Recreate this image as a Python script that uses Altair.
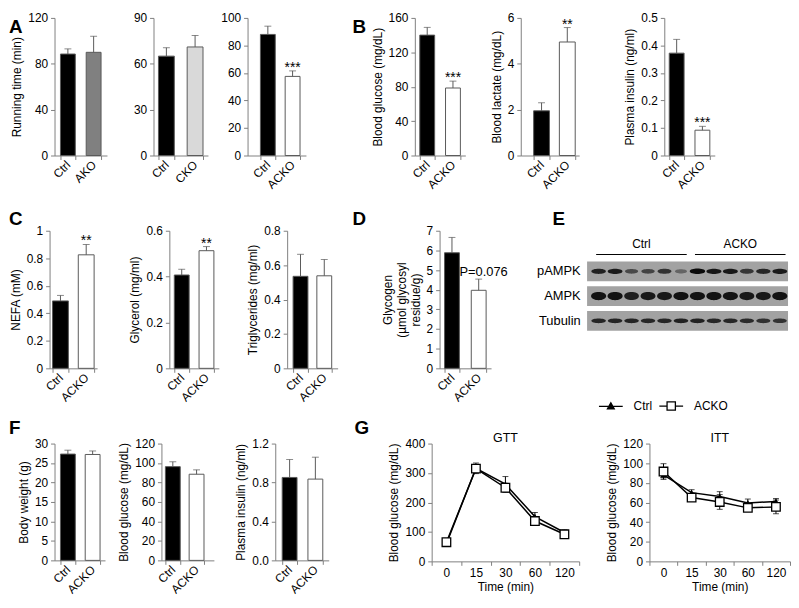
import altair as alt
import pandas as pd

FONT = 'Liberation Sans'
AX = '#808080'
EB = '#595959'

# ---------------- data ----------------
a1_cats = ['Ctrl', 'AKO']
a1_vals = [88.5, 90.0]
a1_errs = [4.5, 14.0]

a2_cats = ['Ctrl', 'CKO']
a2_vals = [65.0, 71.0]
a2_errs = [5.5, 7.5]

ko_cats = ['Ctrl', 'ACKO']
a3_vals = [88.0, 57.5]
a3_errs = [6.0, 4.0]
a3_sig = ['', '***']

b1_vals = [140.0, 78.5]
b1_errs = [9.0, 8.0]
b1_sig = ['', '***']
b2_vals = [1.95, 4.95]
b2_errs = [0.35, 0.63]
b2_sig = ['', '**']
b3_vals = [0.372, 0.092]
b3_errs = [0.05, 0.014]
b3_sig = ['', '***']

c1_vals = [0.49, 0.825]
c1_errs = [0.04, 0.075]
c1_sig = ['', '**']
c2_vals = [0.407, 0.513]
c2_errs = [0.025, 0.018]
c2_sig = ['', '**']
c3_vals = [0.535, 0.538]
c3_errs = [0.128, 0.095]

d_vals = [5.88, 3.97]
d_errs = [0.78, 0.57]
d_note = ['', 'P=0.076']

f1_vals = [27.3, 27.2]
f1_errs = [1.0, 0.9]
f2_vals = [96.3, 88.5]
f2_errs = [5.0, 4.5]
f3_vals = [0.852, 0.835]
f3_errs = [0.184, 0.225]

# western blot (relative band strength per lane)
lanes = list(range(1, 13))
lane_group = ['Ctrl'] * 6 + ['ACKO'] * 6
blot_rows = ['pAMPK', 'AMPK', 'Tubulin']
pampk_int = [0.82, 0.88, 0.5, 0.55, 0.68, 0.3, 1.0, 0.92, 0.9, 0.65, 0.78, 0.88]
ampk_int = [0.95, 0.95, 0.85, 0.9, 0.9, 0.95, 0.95, 0.95, 0.95, 0.9, 0.9, 0.95]
tub_int = [0.8, 0.8, 0.8, 0.78, 0.78, 0.82, 0.82, 0.78, 0.78, 0.75, 0.7, 0.68]

# GTT / ITT
times = ['0', '15', '30', '60', '120']
gtt_ctrl = [60, 316, 262, 152, 98]
gtt_ctrl_err = [6, 18, 26, 14, 9]
gtt_acko = [65, 315, 250, 137, 92]
gtt_acko_err = [8, 14, 15, 10, 7]
itt_ctrl = [88, 70, 66, 59.5, 61]
itt_ctrl_err = [3, 3, 5, 4, 3]
itt_acko = [91.5, 65, 60.5, 54.5, 55.5]
itt_acko_err = [8, 3, 7.5, 3, 7]

# ---------------- styles ----------------
BAR_FILL = {'Ctrl': '#000000', 'AKO': '#808080', 'CKO': '#d9d9d9', 'ACKO': '#ffffff'}
SP = pd.DataFrame({'v': [0]})


def spacer(w, h, letter=None, dx=0, dy=0):
    ch = alt.Chart(SP).mark_point(opacity=0, size=0).encode(
        x=alt.value(0), y=alt.value(0)).properties(width=w, height=h)
    if letter:
        ch = ch.properties(title=alt.TitleParams(
            text=letter, anchor='start', frame='group', dx=dx, dy=dy, offset=0,
            fontSize=19, fontWeight='bold', baseline='top', color='black', font=FONT))
    return ch


def bar_chart(cats, vals, errs, ymax, ticks, ytitle, geom, height, sig=None,
              fmt='~g', sig_size=14, sig_baseline='alphabetic', sig_dx=0, sig_dy=1):
    L, b1, s, bw, R = geom
    W = R - L
    pi = 1 - bw / s
    po = (W / s - 2 + pi) / 2
    al = (b1 - L) / (W - s - bw)
    df = pd.DataFrame({'cat': cats, 'val': vals, 'err': errs,
                       'sig': sig if sig else [''] * len(cats)})
    base = alt.Chart(df).transform_calculate(top='datum.val + datum.err')
    x = alt.X('cat:N', sort=list(cats),
              scale=alt.Scale(paddingInner=pi, paddingOuter=po, align=al),
              axis=alt.Axis(title=None, labelAngle=315, labelAlign='right',
                            labelBaseline='middle', tickBand='extent',
                            labelPadding=3, labelOverlap=False))
    ysc = alt.Scale(domain=[0, ymax], nice=False, zero=True)
    yax = alt.Axis(values=ticks, labelExpr=f"format(datum.value, '{fmt}')",
                   title=ytitle if ytitle else None)
    fill = alt.Fill('cat:N', scale=alt.Scale(domain=list(cats),
                                             range=[BAR_FILL[c] for c in cats]), legend=None)
    bars = base.mark_bar(stroke=EB, strokeWidth=1).encode(
        x=x, y=alt.Y('val:Q', scale=ysc, axis=yax), fill=fill)
    rule = base.mark_rule(color=EB, strokeWidth=1).encode(
        x=x, y=alt.Y('val:Q', scale=ysc, axis=yax), y2='top:Q')
    cap = base.mark_tick(orient='horizontal', size=7, thickness=1, color=EB).encode(
        x=x, y=alt.Y('top:Q', scale=ysc, axis=yax))
    layers = [bars, rule, cap]
    if sig:
        text = base.mark_text(fontSize=sig_size, baseline=sig_baseline, dx=sig_dx,
                              dy=sig_dy, color='black').encode(
            x=x, y=alt.Y('top:Q', scale=ysc, axis=yax), text='sig:N')
        layers.append(text)
    return alt.layer(*layers).properties(width=W, height=height)


def blot_chart(W, H):
    ydom = ['hdr'] + blot_rows
    step = 25.0
    n_inner = len(ydom) - 0.2
    po = (H / step - n_inner) / 2
    al = 6.0 / (H - step * n_inner)
    ysc = alt.Scale(domain=ydom, paddingInner=0.2, paddingOuter=po, align=al)
    yax = alt.Axis(title=None, domain=False, ticks=False, labelFontSize=13,
                   labelPadding=7, labelColor='black',
                   labelExpr="datum.value == 'hdr' ? '' : datum.value")
    xsc = alt.Scale(domain=[0.3, 12.5], nice=False, zero=False)
    y = alt.Y('row:N', scale=ysc, axis=yax, sort=ydom)
    strips = alt.Chart(pd.DataFrame({'row': blot_rows})).mark_rect(color='#a2a2a2').encode(
        x=alt.X(datum=0.3, scale=xsc, axis=None), x2=alt.X2(datum=12.5), y=y)
    layers = [strips]
    for row, ints, ratio in [('pAMPK', pampk_int, 0.36), ('AMPK', ampk_int, 0.55),
                             ('Tubulin', tub_int, 0.33)]:
        k = 4.0 / 3.0 * ratio
        path = f"M-1,0C-1,{-k:.3f} 1,{-k:.3f} 1,0C1,{k:.3f} -1,{k:.3f} -1,0Z"
        df = pd.DataFrame({'lane': lanes, 'int': ints, 'row': [row] * len(lanes)})
        layers.append(alt.Chart(df).mark_point(shape=path, filled=True, opacity=1).encode(
            x=alt.X('lane:Q', scale=xsc, axis=None), y=y,
            fill=alt.Fill('int:Q', scale=alt.Scale(domain=[0, 1], range=['#8f8f8f', '#0a0a0a']),
                          legend=None),
            size=alt.Size('int:Q', scale=alt.Scale(domain=[0, 1], range=[110, 240]), legend=None)))
    lg = pd.DataFrame({'lane': lanes, 'grp': lane_group})
    hdr = lg.groupby('grp', sort=False)['lane'].agg(['min', 'max']).reset_index()
    hdr['row'] = 'hdr'
    hbase = alt.Chart(hdr).transform_calculate(
        xs='datum.min - 0.15', xe='datum.max + 0.35', xm='(datum.min + datum.max) / 2 + 0.1')
    rules = hbase.mark_rule(color='black', strokeWidth=1, yOffset=8).encode(
        x=alt.X('xs:Q', scale=xsc, axis=None), x2='xe:Q', y=y)
    texts = hbase.mark_text(fontSize=12, baseline='middle', yOffset=-3, color='black').encode(
        x=alt.X('xm:Q', scale=xsc, axis=None), y=y, text='grp:N')
    layers += [rules, texts]
    return alt.layer(*layers).properties(width=W, height=H)


def tol_chart(ctrl, ctrl_err, acko, acko_err, ymax, ticks, title, W, H):
    df = pd.DataFrame({'t': times * 2, 'grp': ['Ctrl'] * len(times) + ['ACKO'] * len(times),
                       'val': ctrl + acko, 'err': ctrl_err + acko_err})
    base = alt.Chart(df).transform_calculate(lo='datum.val - datum.err',
                                             hi='datum.val + datum.err')
    x = alt.X('t:N', sort=times, scale=alt.Scale(type='band', paddingInner=0, paddingOuter=0),
              axis=alt.Axis(title='Time (min)', labelAngle=0, tickBand='extent',
                            labelPadding=2, titlePadding=3))
    ysc = alt.Scale(domain=[0, ymax], nice=False, zero=True)
    yax = alt.Axis(values=ticks, labelExpr="format(datum.value, '~g')",
                   title='Blood glucose (mg/dL)')
    line = base.mark_line(color='black', strokeWidth=1.5).encode(
        x=x, y=alt.Y('val:Q', scale=ysc, axis=yax), detail='grp:N')
    rule = base.mark_rule(color='black', strokeWidth=1).encode(
        x=x, y=alt.Y('lo:Q', scale=ysc, axis=yax), y2='hi:Q')
    cap_lo = base.mark_tick(orient='horizontal', size=6, thickness=1, color='black').encode(
        x=x, y=alt.Y('lo:Q', scale=ysc, axis=yax))
    cap_hi = base.mark_tick(orient='horizontal', size=6, thickness=1, color='black').encode(
        x=x, y=alt.Y('hi:Q', scale=ysc, axis=yax))
    pc = base.transform_filter("datum.grp == 'Ctrl'").mark_point(
        shape='triangle-up', filled=True, color='black', size=45, opacity=1).encode(
        x=x, y=alt.Y('val:Q', scale=ysc, axis=yax))
    pa = base.transform_filter("datum.grp == 'ACKO'").mark_point(
        shape='square', filled=True, fill='white', stroke='black', strokeWidth=1.3,
        size=75, opacity=1).encode(x=x, y=alt.Y('val:Q', scale=ysc, axis=yax))
    return alt.layer(line, rule, cap_lo, cap_hi, pc, pa).properties(
        width=W, height=H,
        title=alt.TitleParams(text=title, fontSize=12.5, fontWeight='normal', anchor='middle',
                              offset=0, dy=20, baseline='bottom', color='black'))


def legend_holder(w, h, lx, ly):
    P_CTRL = "M-4,0H4M0,-1.25L1.15,0.85H-1.15Z"
    P_ACKO = "M-4,0H-1.4M1.4,0H4M-1.4,-1.4H1.4V1.4H-1.4Z"
    leg = alt.Legend(orient='none', legendX=lx, legendY=ly, direction='horizontal',
                     title=None, symbolSize=36, symbolStrokeWidth=1.3, labelFontSize=12,
                     labelOffset=17, columnPadding=4, padding=0, labelColor='black')
    return alt.Chart(pd.DataFrame({'grp': ['Ctrl', 'ACKO']})).mark_point(
        size=0, filled=False, stroke='black', strokeWidth=1.3, opacity=1).encode(
        shape=alt.Shape('grp:N', scale=alt.Scale(domain=['Ctrl', 'ACKO'], range=[P_CTRL, P_ACKO]),
                        legend=leg),
        fill=alt.Fill('grp:N', scale=alt.Scale(domain=['Ctrl', 'ACKO'], range=['black', 'white']),
                      legend=leg),
    ).properties(width=w, height=h)


# ---------------- panels ----------------
H1, H2, HF, HG = 139, 139, 118, 119
A1 = bar_chart(a1_cats, a1_vals, a1_errs, 120, [0, 40, 80, 120], 'Running time (min)',
               (52, 58, 26, 15, 105), H1)
A2 = bar_chart(a2_cats, a2_vals, a2_errs, 90, [0, 30, 60, 90], None, (152, 157, 29, 16, 207), H1)
A3 = bar_chart(ko_cats, a3_vals, a3_errs, 100, [0, 20, 40, 60, 80, 100], None,
               (247, 260, 25, 15, 306), H1, sig=a3_sig)
B1 = bar_chart(ko_cats, b1_vals, b1_errs, 160, [0, 40, 80, 120, 160], 'Blood glucose (mg/dL)',
               (416, 421, 26, 15, 467), H1, sig=b1_sig)
B2 = bar_chart(ko_cats, b2_vals, b2_errs, 6, [0, 2, 4, 6], 'Blood lactate (mg/dL)',
               (523, 536, 26, 16, 582), H1, sig=b2_sig)
B3 = bar_chart(ko_cats, b3_vals, b3_errs, 0.5, [0, 0.1, 0.2, 0.3, 0.4, 0.5],
               'Plasma insulin (ng/ml)', (668, 673, 26, 15, 719), H1, sig=b3_sig)

C1 = bar_chart(ko_cats, c1_vals, c1_errs, 1, [0, 0.2, 0.4, 0.6, 0.8, 1], 'NEFA (mM)',
               (47, 50, 26, 16, 95), H2, sig=c1_sig)
C2 = bar_chart(ko_cats, c2_vals, c2_errs, 0.6, [0, 0.2, 0.4, 0.6], 'Glycerol (mg/ml)',
               (168, 173, 25, 15, 218), H2, sig=c2_sig)
C3 = bar_chart(ko_cats, c3_vals, c3_errs, 0.8, [0, 0.2, 0.4, 0.6, 0.8], 'Triglycerides (mg/ml)',
               (287, 293, 24, 15, 338), H2)
D = bar_chart(ko_cats, d_vals, d_errs, 7, [0, 1, 2, 3, 4, 5, 6, 7],
              ['Glycogen', '(\u00b5mol glycosyl', 'residue/g)'],
              (441, 446, 27, 15, 493), H2, sig=d_note, sig_size=13,
              sig_baseline='bottom', sig_dx=5, sig_dy=0)
E = blot_chart(203, H2)

F1 = bar_chart(ko_cats, f1_vals, f1_errs, 30, [0, 5, 10, 15, 20, 25, 30], 'Body weight (g)',
               (52, 58, 25, 15, 103), HF)
F2 = bar_chart(ko_cats, f2_vals, f2_errs, 120, [0, 20, 40, 60, 80, 100, 120],
               'Blood glucose (mg/dL)', (160, 164, 24, 15, 213), HF)
F3 = bar_chart(ko_cats, f3_vals, f3_errs, 1.2, [0, 0.4, 0.8, 1.2], 'Plasma insulin (ng/ml)',
               (275, 282, 26, 15, 329), HF, fmt='.1f')
G1 = tol_chart(gtt_ctrl, gtt_ctrl_err, gtt_acko, gtt_acko_err, 400, [0, 100, 200, 300, 400],
               'GTT', 149, HG)
G2 = tol_chart(itt_ctrl, itt_ctrl_err, itt_acko, itt_acko_err, 120,
               [0, 20, 40, 60, 80, 100, 120], 'ITT', 142, HG)

RES = dict(fill='independent', shape='independent', size='independent')
SHIFT = 6   # layout origin (reference x) of every row


def build_row(entries, letter_dy):
    items = []
    cur = SHIFT
    for L, R, ch, letter, lx in entries:
        if letter == 'LEGEND':
            items.append(legend_holder(L - cur, 1, 26, -44))
        else:
            items.append(spacer(L - cur, 1, letter, (lx - cur) if letter else 0, letter_dy))
        items.append(ch)
        cur = R
    return alt.hconcat(*items, spacing=0, bounds='flush').resolve_scale(**RES)


row1 = build_row([(52, 105, A1, 'A', 6), (152, 207, A2, None, 0), (247, 306, A3, None, 0),
                  (416, 467, B1, 'B', 353), (523, 582, B2, None, 0), (668, 719, B3, None, 0)], 19)
row2 = build_row([(47, 95, C1, 'C', 6), (168, 218, C2, None, 0), (287, 338, C3, None, 0),
                  (441, 493, D, 'D', 353), (590, 793, E, 'E', 555)], -2)
row3 = build_row([(52, 103, F1, 'F', 6), (160, 213, F2, None, 0), (275, 329, F3, None, 0),
                  (433, 582, G1, 'G', 355), (653, 795, G2, 'LEGEND', 0)], -6)

ROW_STEP = 215
chart = alt.vconcat(row1, row2, row3, spacing=ROW_STEP, bounds='flush', padding=0).resolve_scale(
    **RES
).configure(font=FONT).configure_axis(
    domainColor=AX, tickColor=AX, tickSize=4, domainWidth=1, tickWidth=1, grid=False,
    labelFontSize=12, labelColor='black', titleFontSize=12, titleFontWeight='normal',
    titleColor='black', labelPadding=3, titlePadding=4, labelFont=FONT, titleFont=FONT
).configure_view(stroke='transparent').configure_legend(labelFont=FONT)

chart.save('out.html', embed_options={'renderer': 'svg', 'actions': False})
